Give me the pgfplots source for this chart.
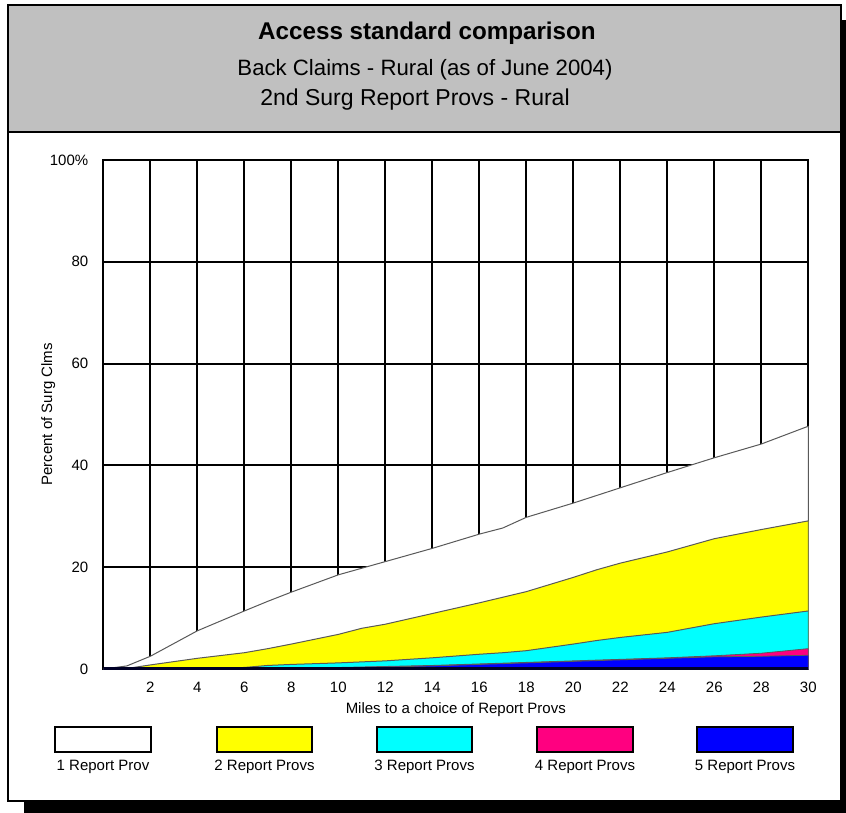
\documentclass[border=0pt]{standalone}
\usepackage{fontspec}
\setmainfont{Liberation Sans}
\usepackage{pgfplots}
\pgfplotsset{compat=1.18}
\usepackage{pgfplotstable}

\definecolor{bandgray}{HTML}{C0C0C0}
\definecolor{areayellow}{HTML}{FFFF00}
\definecolor{areacyan}{HTML}{00FFFF}
\definecolor{areapink}{HTML}{FF0080}
\definecolor{areablue}{HTML}{0000FF}

% cumulative shares (percent of surg clms) by miles
\pgfplotstableread{
x   total two  three four five
0   0     0    0     0    0
1   0.6   0.1  0     0    0
2   2.5   0.8  0     0    0
4   7.5   2.1  0.1   0    0
6   11.4  3.2  0.3   0    0
7   13.3  4.0  0.7   0.1  0.05
8   15.1  4.9  0.9   0.2  0.1
10  18.5  6.8  1.2   0.3  0.2
11  19.8  8.0  1.4   0.4  0.3
12  21.1  8.8  1.6   0.5  0.4
14  23.7  10.9 2.2   0.7  0.6
16  26.5  13.0 2.9   1.0  0.9
17  27.7  14.1 3.2   1.15 1.05
18  29.8  15.2 3.6   1.3  1.2
20  32.6  18.0 4.9   1.6  1.5
21  34.1  19.5 5.6   1.75 1.65
22  35.6  20.8 6.2   1.9  1.8
24  38.6  23.0 7.2   2.2  2.1
26  41.5  25.6 8.9   2.6  2.4
28  44.2  27.4 10.2  3.1  2.5
30  47.7  29.1 11.4  4.0  2.7
}\accessdata

\newcommand{\smallfont}{\fontsize{7.5}{9}\selectfont}

\begin{document}
\begin{tikzpicture}
% frame, shadow and title band (1 unit = 1 px of the reference)
\begin{scope}[x=0.5pt,y=-0.5pt]
  \useasboundingbox (0,0) rectangle (846,813);
  \fill[black] (24,20) rectangle (846,813);
  \draw[fill=white,line width=0.6pt] (8,5) rectangle (841,801);
  \draw[fill=bandgray,line width=0.6pt] (8,5) rectangle (841,132);
  \node[font=\bfseries\fontsize{12.1}{15}\selectfont] at (427,33) {Access standard comparison};
  \node[font=\fontsize{11.1}{13}\selectfont] at (425,70) {Back Claims - Rural (as of June 2004)};
  \node[font=\fontsize{11.5}{13}\selectfont] at (415,100) {2nd Surg Report Provs - Rural};
\end{scope}

\begin{axis}[
    at={(51.65pt,-334.5pt)},
    anchor=south west,
    scale only axis,
    width=352.5pt,
    height=254.5pt,
    xmin=0, xmax=30,
    ymin=0, ymax=100,
    xtick={2,4,...,30},
    ytick={0,20,...,100},
    yticklabels={0,20,40,60,80,100\%},
    grid=major,
    major grid style={black,line width=1pt},
    axis line style={black,line width=1pt},
    major tick length=0pt,
    tick label style={font=\smallfont},
    /pgf/number format/assume math mode=true,
    yticklabel style={xshift=-4pt},
    xticklabel style={yshift=-3pt},
    xlabel={Miles to a choice of Report Provs},
    ylabel={Percent of Surg Clms},
    label style={font=\smallfont},
    xlabel style={yshift=2pt},
    ylabel style={yshift=-9.5pt},
]
\addplot[fill=white,draw=black!65,line width=0.5pt] table[x=x,y=total] {\accessdata} \closedcycle;
\addplot[fill=areayellow,draw=black!65,line width=0.5pt] table[x=x,y=two] {\accessdata} \closedcycle;
\addplot[fill=areacyan,draw=black!65,line width=0.5pt] table[x=x,y=three] {\accessdata} \closedcycle;
\addplot[fill=areapink,draw=black!65,line width=0.4pt] table[x=x,y=four] {\accessdata} \closedcycle;
\addplot[fill=areablue,draw=black!65,line width=0.4pt] table[x=x,y=five] {\accessdata} \closedcycle;
\draw[line width=2pt,black!85!blue] (axis cs:0,0) -- (axis cs:30,0);
\end{axis}

% legend drawn by hand below the axis
\begin{scope}[x=0.5pt,y=-0.5pt]
  \foreach \xa/\xb/\col/\lab in {55/151/white/1 Report Prov,
                                 217/312/areayellow/2 Report Provs,
                                 377/472/areacyan/3 Report Provs,
                                 537/633/areapink/4 Report Provs,
                                 697/793/areablue/5 Report Provs}{
    \draw[fill=\col,line width=0.6pt] (\xa,727) rectangle (\xb,752);
    \node[font=\smallfont] at ({(\xa+\xb)/2},767) {\lab};
  }
\end{scope}
\end{tikzpicture}
\end{document}
